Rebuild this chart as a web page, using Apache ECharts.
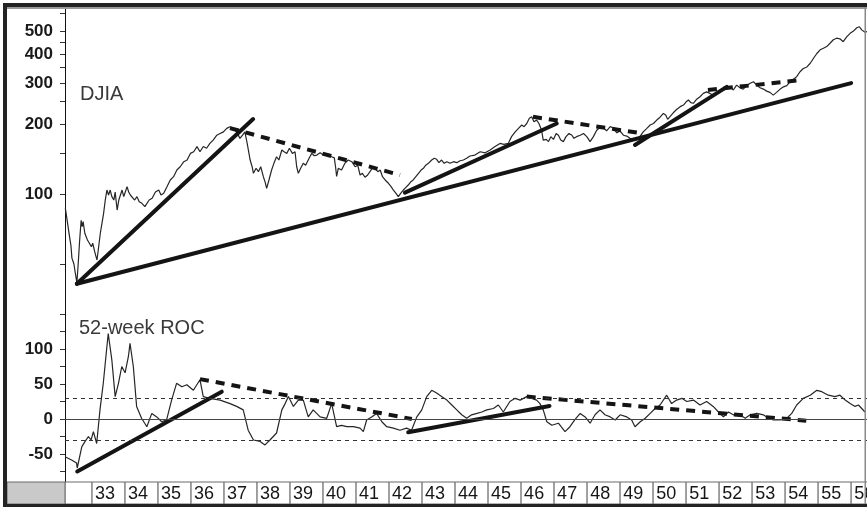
<!DOCTYPE html>
<html><head><meta charset="utf-8">
<script src="https://cdn.jsdelivr.net/npm/echarts@6/dist/echarts.min.js"></script>
<style>html,body{margin:0;padding:0;background:#fff}#c{width:867px;height:507px}</style>
</head><body><div id="c"></div>
<script>
// ---------- data ----------
const djiaDates = [1932.19,1932.24,1932.30,1932.36,1932.39,1932.45,1932.50,1932.54,1932.58,1932.62,1932.65,1932.67,1932.70,1932.73,1932.78,1932.82,1932.86,1932.92,1932.98,1933.02,1933.08,1933.12,1933.15,1933.20,1933.25,1933.30,1933.35,1933.40,1933.45,1933.50,1933.55,1933.60,1933.66,1933.70,1933.76,1933.81,1933.86,1933.91,1933.96,1934.06,1934.11,1934.16,1934.21,1934.29,1934.36,1934.43,1934.51,1934.60,1934.66,1934.73,1934.82,1934.92,1935.02,1935.09,1935.17,1935.27,1935.37,1935.47,1935.57,1935.67,1935.78,1935.88,1935.98,1936.08,1936.18,1936.27,1936.37,1936.47,1936.57,1936.67,1936.78,1936.88,1936.98,1937.08,1937.18,1937.28,1937.38,1937.48,1937.56,1937.63,1937.70,1937.79,1937.85,1937.89,1937.97,1938.04,1938.11,1938.19,1938.24,1938.29,1938.36,1938.44,1938.51,1938.59,1938.66,1938.75,1938.82,1938.90,1938.98,1939.07,1939.15,1939.20,1939.25,1939.32,1939.40,1939.47,1939.55,1939.60,1939.66,1939.73,1939.81,1939.91,1940.01,1940.11,1940.26,1940.34,1940.38,1940.41,1940.46,1940.56,1940.66,1940.76,1940.87,1940.97,1941.05,1941.12,1941.19,1941.27,1941.35,1941.42,1941.49,1941.57,1941.66,1941.73,1941.80,1941.88,1941.98,1942.06,1942.13,1942.21,1942.28,1942.35,1942.43,1942.51,1942.58,1942.66,1942.73,1942.81,1942.89,1942.97,1943.04,1943.11,1943.19,1943.29,1943.37,1943.44,1943.51,1943.59,1943.67,1943.75,1943.85,1943.95,1944.05,1944.15,1944.25,1944.35,1944.45,1944.60,1944.76,1944.91,1945.06,1945.21,1945.36,1945.48,1945.61,1945.71,1945.82,1945.92,1946.02,1946.09,1946.17,1946.25,1946.32,1946.39,1946.47,1946.54,1946.62,1946.67,1946.76,1946.83,1946.90,1946.98,1947.06,1947.13,1947.20,1947.28,1947.36,1947.45,1947.54,1947.60,1947.68,1947.79,1947.89,1947.99,1948.09,1948.19,1948.29,1948.39,1948.49,1948.59,1948.70,1948.80,1948.90,1949.00,1949.10,1949.20,1949.30,1949.40,1949.50,1949.60,1949.70,1949.81,1949.91,1950.01,1950.11,1950.21,1950.31,1950.38,1950.44,1950.51,1950.61,1950.71,1950.82,1950.92,1951.00,1951.07,1951.14,1951.22,1951.32,1951.42,1951.52,1951.62,1951.72,1951.82,1951.92,1952.02,1952.13,1952.23,1952.33,1952.43,1952.53,1952.63,1952.73,1952.84,1952.94,1953.04,1953.14,1953.24,1953.34,1953.44,1953.54,1953.64,1953.74,1953.85,1953.95,1954.05,1954.15,1954.25,1954.35,1954.45,1954.55,1954.66,1954.76,1954.86,1954.96,1955.06,1955.16,1955.26,1955.36,1955.46,1955.56,1955.66,1955.76,1955.87,1955.97,1956.07,1956.17,1956.25,1956.32,1956.42,1956.48];
const djiaValues = [87,78,68,60,53,50,45,41.5,50,62,71,77,72.4,76,67.8,68.8,63.4,64.5,59.3,61.4,56.5,53.8,52,59.3,67.8,74.8,82.6,94.2,104,99,104,97.4,94.2,102,85.3,94.2,99,104,97.4,107.5,102,99,100.7,94.2,97.4,92.7,91.2,88.2,86.8,94.2,95.8,102,104,99,100.7,107.5,114.9,118.7,126.8,131,137.7,140,149.5,152,159.9,152,160,157.3,165,170.6,179,182,185,191.6,194.8,191.6,185,173.5,179,185,165,140,131,122.7,129,124.7,131,118.7,113,105.8,114.9,126.8,135.5,144.6,140,154.6,152,149.5,157.3,149.5,152,131,122.7,129,135.5,133,140,144.6,149.5,146,147,150.4,147,148.6,144.6,143,130,119,129,126.8,135.5,140,137.7,131,133,120.7,122.7,118,120.7,124.7,129,129,124.7,126.8,118.7,114.9,111.2,107.5,104,100.7,97.4,100.7,104,106.8,109.3,113,114.9,118.7,122.7,126.8,129,133,135.5,140,142.4,141,136.4,140,135.5,137.7,135.5,137.7,136.4,139,140,142.4,145.7,147,152,150.4,154.6,160,165,163.6,165,176.5,185,191.6,198,194.8,201,211.6,215,204.5,208,201,188,170.6,171.7,168,176.5,171.7,182,179,170.6,168,176.5,182,179,173.5,176.5,179,182,176.5,168,176.5,188,193,193,187,195,191.6,183.3,186.5,179,177.5,173.5,170.6,171.7,176.5,185,191.6,198,201,208,214,222,218.5,209.5,215,223.5,231,237.5,241.3,249.2,253.7,247,245.6,255.6,262,270.8,275,270.8,266.3,270.8,275,281.8,289,289,280,294,286.5,282.6,292.6,299.3,304,294,286.5,282.6,277,273.5,266.3,273.5,282.6,289,292.6,304,312,319.6,335.6,346.4,352,365,383.5,402,417,423.8,430.7,445,460.7,468,465,452,475,491,502,519,524,508,496,500];

const rocDates = [1932.18,1932.38,1932.53,1932.55,1932.69,1932.79,1932.89,1932.97,1933.04,1933.14,1933.24,1933.34,1933.44,1933.49,1933.60,1933.70,1933.80,1933.90,1934.00,1934.10,1934.15,1934.25,1934.35,1934.50,1934.66,1934.81,1934.96,1935.11,1935.26,1935.41,1935.56,1935.72,1935.87,1936.07,1936.27,1936.37,1936.57,1936.88,1937.18,1937.38,1937.58,1937.73,1937.89,1938.09,1938.24,1938.39,1938.59,1938.75,1938.85,1938.95,1939.10,1939.25,1939.40,1939.55,1939.70,1939.91,1940.11,1940.26,1940.41,1940.56,1940.72,1940.92,1941.12,1941.22,1941.32,1941.47,1941.62,1941.78,1941.93,1942.13,1942.33,1942.53,1942.68,1942.84,1942.99,1943.14,1943.29,1943.44,1943.59,1943.75,1943.90,1944.05,1944.20,1944.35,1944.50,1944.66,1944.81,1944.96,1945.16,1945.31,1945.46,1945.66,1945.82,1945.97,1946.17,1946.32,1946.47,1946.57,1946.67,1946.78,1946.93,1947.13,1947.33,1947.48,1947.63,1947.79,1947.94,1948.09,1948.24,1948.39,1948.54,1948.70,1948.85,1949.00,1949.20,1949.35,1949.45,1949.61,1949.76,1949.91,1950.06,1950.21,1950.41,1950.56,1950.71,1950.87,1951.02,1951.22,1951.42,1951.62,1951.82,1951.98,1952.13,1952.28,1952.43,1952.63,1952.79,1952.94,1953.14,1953.34,1953.49,1953.64,1953.85,1954.05,1954.20,1954.35,1954.55,1954.76,1954.96,1955.11,1955.31,1955.51,1955.66,1955.82,1955.97,1956.12,1956.22,1956.32,1956.42];
const rocValues = [-54,-58.6,-63,-70,-39.5,-32,-25,-30,-18,-35,13,51,99,122,84,32,51,75,66,89,108,75,18,1,-11,8,3,-4,-1,27,51,46,49,41,56,32,29.5,27,22,18,13,-16,-30,-32,-37,-30,-20,13,22,32,18,27,27,3,13,3,1,22,-11,-9,-11,-11,-13,-18,-1.4,3,8,-4,-11,-13,-16,-13,-16,3,13,32,41,37,32,27,20,13,6,1,6,8,10,13,15,20,10,25,29.5,27,32,29.5,27,22,13,-4,-9,-6,-18,-11,-1,8,3,-6,6,13,6,3,-1.4,6,3,-1.4,-11,-4,1,8,15,20,34,22,27,29.5,25,27,20,25,18,10,3,10,6,6,1,6,8,6,1,-1.4,-1.4,1,8,20,29.5,34,41,39,34,32,34,27,22,18,20,15,10];

// trendlines: [[startYear,startValue],[endYear,endValue]]
const djiaSolidTrends = [
  [[1932.54,41.1],[1937.88,210]],
  [[1932.54,41.1],[1956.0,300]],
  [[1942.48,101.3],[1947.08,201]],
  [[1949.45,162.5],[1952.23,289]]
];
const djiaDashedTrends = [
  [[1937.18,192],[1942.33,120.7]],
  [[1946.36,214.8],[1949.60,182.9]],
  [[1951.66,280],[1954.45,309]]
];
const rocSolidTrends = [
  [[1932.55,-75],[1936.93,39]],
  [[1942.58,-19],[1946.86,18.6]]
];
const rocDashedTrends = [
  [[1936.27,57],[1942.69,0]],
  [[1946.17,32],[1954.64,-2.4]]
];
const rocLevels = [0, 30, -30];

const djiaTicks = [50,100,150,200,250,300,350,400,450,500,600];
const djiaTickLabels = [100,200,300,400,500];
const rocTicks = [-75,-50,-25,0,25,50,75,100,125,150];
const rocTickLabels = [-50,0,50,100];
const stripYears = [1932,1933,1934,1935,1936,1937,1938,1939,1940,1941,1942,1943,1944,1945,1946,1947,1948,1949,1950,1951,1952,1953,1954,1955,1956];
const yearLabels = ['', '33','34','35','36','37','38','39','40','41','42','43','44','45','46','47','48','49','50','51','52','53','54','55','56'];

// ---------- chart ----------
const X_MIN = 1932.18, X_MAX = 1956.48;
const FONT = 'Liberation Sans, Arial, sans-serif';
const zip = (a, b) => a.map((v, i) => [v, b[i]]);
const chart = echarts.init(document.getElementById('c'), null, {renderer: 'canvas'});

const series = [];
series.push({type:'line', xAxisIndex:0, yAxisIndex:0, data: zip(djiaDates, djiaValues), showSymbol:false, symbol:'none',
  lineStyle:{color:'#262626', width:1.2}, z:2, animation:false});
djiaSolidTrends.forEach(t => series.push({type:'line', xAxisIndex:0, yAxisIndex:0, data:t, symbol:'none',
  lineStyle:{color:'#141414', width:4, cap:'round'}, z:3, animation:false}));
djiaDashedTrends.forEach(t => series.push({type:'line', xAxisIndex:0, yAxisIndex:0, data:t, symbol:'none',
  lineStyle:{color:'#141414', width:4, type:[9,7]}, z:3, animation:false}));

series.push({type:'line', xAxisIndex:1, yAxisIndex:1, data: zip(rocDates, rocValues), showSymbol:false, symbol:'none',
  lineStyle:{color:'#262626', width:1.2}, z:2, animation:false,
  markLine:{silent:true, symbol:'none', animation:false, label:{show:false},
    data: rocLevels.map(v => ({yAxis:v, lineStyle:{color: v===0 ? '#444' : '#333', width:1, type: v===0 ? 'solid' : [4,4]}}))}});
rocSolidTrends.forEach(t => series.push({type:'line', xAxisIndex:1, yAxisIndex:1, data:t, symbol:'none',
  lineStyle:{color:'#141414', width:4, cap:'round'}, z:3, animation:false}));
rocDashedTrends.forEach(t => series.push({type:'line', xAxisIndex:1, yAxisIndex:1, data:t, symbol:'none',
  lineStyle:{color:'#141414', width:4, type:[9,7]}, z:3, animation:false}));

series.push({type:'custom', xAxisIndex:2, yAxisIndex:2, animation:false,
  data: stripYears.map((y, i) => [y, i]),
  renderItem: (params, api) => {
    const yr = api.value(0), idx = api.value(1);
    const p0 = api.coord([yr, 1]), p1 = api.coord([yr + 1, 0]);
    const cs = params.coordSys;
    const left = Math.max(p0[0], cs.x), right = Math.min(p1[0], cs.x + cs.width + 20);
    return {type:'group', children:[
      {type:'rect', shape:{x:left, y:p0[1], width:right-left, height:p1[1]-p0[1]}, style:{fill:'#fff', stroke:'#6a6a6a', lineWidth:1}},
      {type:'text', x:p0[0] + 3, y:(p0[1] + p1[1]) / 2 + 1, style:{text: yearLabels[idx], fill:'#161616', font:'18px ' + FONT, textAlign:'left', textVerticalAlign:'middle'}}
    ]};
  }});

const xAx = i => ({type:'value', gridIndex:i, min:X_MIN, max:X_MAX, show:false});
const tickStyle = {show:true, length:5, lineStyle:{color:'#333', width:1}};
const labelStyle = {color:'#1a1a1a', fontFamily:FONT, fontSize:17, fontWeight:'bold', margin:12};

chart.setOption({
  animation:false,
  backgroundColor:'#fff',
  grid:[
    {left:65, top:5, width:802, height:295, containLabel:false},
    {left:65, top:300, width:802, height:182, containLabel:false},
    {left:65, top:482, width:802, height:22, containLabel:false}
  ],
  xAxis:[xAx(0), xAx(1), xAx(2)],
  yAxis:[
    {type:'log', gridIndex:0, logBase:10, min:35, max:650,
     axisLine:{show:true, lineStyle:{color:'#111', width:1}},
     axisTick:Object.assign({customValues: djiaTicks}, tickStyle),
     axisLabel:Object.assign({customValues: djiaTickLabels}, labelStyle),
     splitLine:{show:false}, minorTick:{show:false}},
    {type:'value', gridIndex:1, min:-90, max:170,
     axisLine:{show:true, lineStyle:{color:'#111', width:1}},
     axisTick:Object.assign({customValues: rocTicks}, tickStyle),
     axisLabel:Object.assign({customValues: rocTickLabels}, labelStyle),
     splitLine:{show:false}},
    {type:'value', gridIndex:2, min:0, max:1, show:false}
  ],
  graphic:[
    {type:'text', left:80, top:84, z:10, style:{text:'DJIA', fill:'#3a3a3a', font:'20px ' + FONT}},
    {type:'text', left:79, top:318, z:10, style:{text:'52-week ROC', fill:'#3a3a3a', font:'20px ' + FONT}},
    {type:'rect', z:10, shape:{x:7, y:482, width:58, height:22}, style:{fill:'#c9c9c9', stroke:'#6a6a6a', lineWidth:1}},
    {type:'rect', z:11, shape:{x:3, y:3, width:864, height:4}, style:{fill:'#232323'}},
    {type:'rect', z:11, shape:{x:3, y:7, width:864, height:2}, style:{fill:'#9a9a9a'}},
    {type:'rect', z:11, shape:{x:3, y:3, width:4, height:504}, style:{fill:'#232323'}},
    {type:'rect', z:11, shape:{x:3, y:504, width:864, height:3}, style:{fill:'#232323'}},
    {type:'rect', z:11, shape:{x:864.5, y:7, width:1.5, height:497}, style:{fill:'#8a8a8a'}}
  ],
  series: series
});
</script>
</body></html>
